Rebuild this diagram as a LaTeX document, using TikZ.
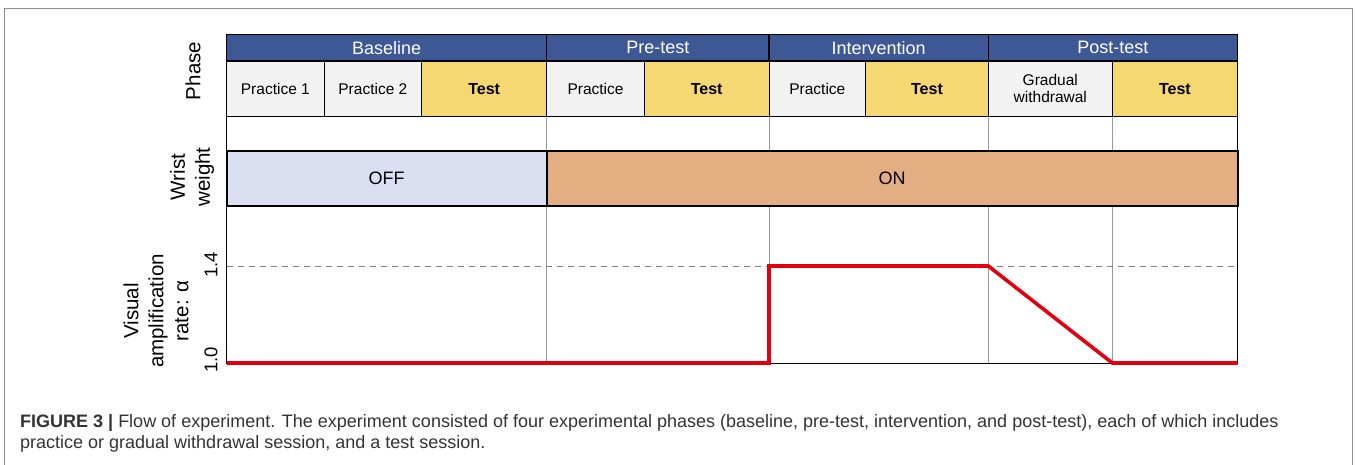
\documentclass[tikz,border=0pt]{standalone}
\usepackage{fontspec}
\setmainfont{Liberation Sans}
\usetikzlibrary{positioning}
\definecolor{hdrblue}{HTML}{3E5795}
\definecolor{testyel}{HTML}{F5D871}
\definecolor{pracgray}{HTML}{F2F2F2}
\definecolor{offblue}{HTML}{DAE0F1}
\definecolor{ontan}{HTML}{E3AE82}
\definecolor{redline}{HTML}{E2000E}
\definecolor{framegray}{HTML}{8C8C8C}
\begin{document}
\begin{tikzpicture}[x=1pt,y=-1pt,
  hdr/.style={draw=black,line width=1.1pt,fill=hdrblue,text=white,inner sep=0pt,font=\fontsize{18}{20}\selectfont},
  prac/.style={draw=black,line width=1pt,fill=pracgray,inner sep=0pt,font=\fontsize{15.5}{17}\selectfont},
  tst/.style={draw=black,line width=1pt,fill=testyel,inner sep=0pt,font=\fontsize{16}{17}\selectfont\bfseries},
  wbox/.style={draw=black,line width=2pt,inner sep=0pt,font=\fontsize{18}{20}\selectfont},
  sidelab/.style={rotate=90,align=center,inner sep=0pt,font=\fontsize{20.5}{25}\selectfont},
  ticklab/.style={rotate=90,inner sep=0pt,font=\fontsize{18.5}{20}\selectfont},
  gridln/.style={draw=gray!80,line width=0.9pt},
  amp/.style={draw=redline,line width=3.6pt,line join=miter},
  captext/.style={anchor=west,inner sep=0pt,font=\fontsize{18}{21}\selectfont,text=black!80}
]
\useasboundingbox (0,0) rectangle (1355,464);
% outer frame
\draw[framegray,line width=1pt] (4.5,470) -- (4.5,8) -- (1352.5,8) -- (1352.5,470);

% lower grid area
\draw[gridln] (546.7,116.7) -- (546.7,363);
\draw[gridln] (769,116.7) -- (769,363);
\draw[gridln] (988.3,116.7) -- (988.3,363);
\draw[gridln] (1112.3,116.7) -- (1112.3,363);
\draw[black,line width=1pt] (226.7,116.7) -- (226.7,363) -- (1237.5,363) -- (1237.5,116.7);
% dashed 1.4 line
\draw[gray,line width=1pt,dash pattern=on 6pt off 5pt] (226.7,266) -- (1237.5,266);

% phase headers
\node[hdr,minimum width=320pt,minimum height=26.3pt] (base) at (386.7,47.85) {Baseline};
\node[hdr,minimum width=222.3pt,minimum height=26.3pt] (pre) at (657.85,47.85) {Pre-test};
\node[hdr,minimum width=219.3pt,minimum height=26.3pt] (int) at (878.65,47.85) {Intervention};
\node[hdr,minimum width=249.2pt,minimum height=26.3pt] (post) at (1112.9,47.85) {Post-test};

% sessions
\node[prac,minimum width=97.3pt,minimum height=55.7pt] (p1) at (275.35,88.85) {Practice 1};
\node[prac,minimum width=97.7pt,minimum height=55.7pt] (p2) at (372.85,88.85) {Practice 2};
\node[tst,minimum width=125pt,minimum height=55.7pt] (t1) at (484.2,88.85) {Test};
\node[prac,minimum width=97.6pt,minimum height=55.7pt] (p3) at (595.5,88.85) {Practice};
\node[tst,minimum width=124.7pt,minimum height=55.7pt] (t2) at (706.65,88.85) {Test};
\node[prac,minimum width=96.7pt,minimum height=55.7pt] (p4) at (817.35,88.85) {Practice};
\node[tst,minimum width=122.6pt,minimum height=55.7pt] (t3) at (927,88.85) {Test};
\node[prac,minimum width=124pt,minimum height=55.7pt,align=center] (g) at (1050.3,88.85) {Gradual\\withdrawal};
\node[tst,minimum width=125.2pt,minimum height=55.7pt] (t4) at (1174.9,88.85) {Test};

% wrist weight
\node[wbox,fill=offblue,minimum width=320pt,minimum height=55.3pt] (off) at (386.7,178.35) {OFF};
\node[wbox,fill=ontan,minimum width=690.8pt,minimum height=55.3pt] (on) at (892.1,178.35) {ON};

% amplification rate
\coordinate (a0) at (226.7,363);
\coordinate (a1) at (769,363);
\coordinate (a2) at (769,266);
\coordinate (a3) at (988.3,266);
\coordinate (a4) at (1112.3,363);
\coordinate (a5) at (1237.5,363);
\draw[amp] (a0) -- (a1) -- (a2) -- (a3) -- (a4) -- (a5);

% side labels
\node[sidelab] (phl) at (193,71) {Phase};
\node[sidelab] (wwl) at (192,177) {Wrist\\weight};
\node[sidelab] (val) at (156,311) {Visual\\amplification\\rate: α};
\node[ticklab] (t14) at (211,265) {1.4};
\node[ticklab] (t10) at (211,360) {1.0};

% caption
\node[captext] (c1) at (20,423) {\textbf{FIGURE 3 |} Flow of experiment. The experiment consisted of four experimental phases (baseline, pre-test, intervention, and post-test), each of which includes};
\node[captext] (c2) at (20,444) {practice or gradual withdrawal session, and a test session.};
\end{tikzpicture}
\end{document}
